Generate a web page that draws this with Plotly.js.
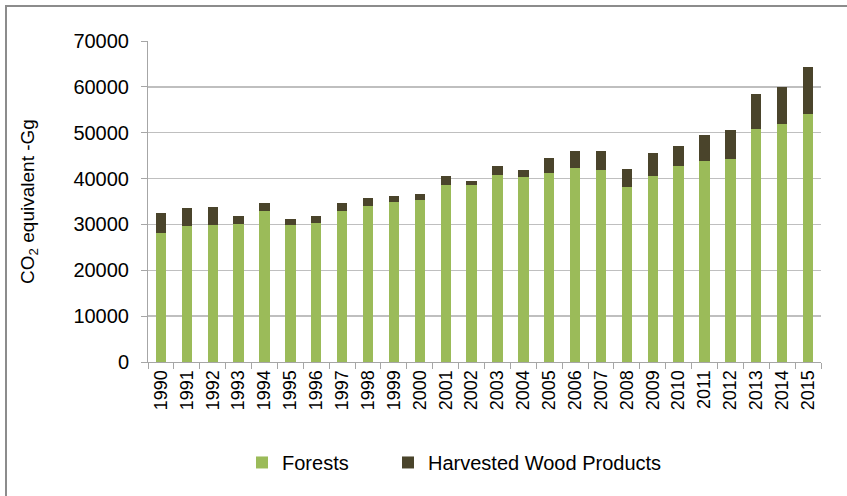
<!DOCTYPE html>
<html>
<head>
<meta charset="utf-8">
<script src="https://cdn.plot.ly/plotly-3.0.1.min.js"></script>
<style>
  html, body { margin: 0; padding: 0; background: #ffffff; }
  #wrap { position: relative; width: 847px; height: 496px; overflow: hidden; }
  #chart { position: absolute; left: 0; top: 0; width: 847px; height: 496px; }
  #frame { position: absolute; left: 5px; top: 5px; width: 900px; height: 600px;
           border-top: 2px solid #8c8c8c; border-left: 2px solid #8c8c8c; pointer-events: none; }
</style>
</head>
<body>
<div id="wrap">
  <div id="chart"></div>
  <div id="frame"></div>
</div>
<script>
// Annual removals, CO2 equivalent (Gg)
const years = ['1990','1991','1992','1993','1994','1995','1996','1997','1998','1999',
               '2000','2001','2002','2003','2004','2005','2006','2007','2008','2009',
               '2010','2011','2012','2013','2014','2015'];
const forests = [28100, 29600, 29900, 30100, 32900, 29900, 30400, 32900, 34100, 34800,
                 35300, 38700, 38700, 40800, 40300, 41300, 42400, 41900, 38100, 40600,
                 42700, 43800, 44300, 50800, 52000, 54100];
const harvestedWood = [4400, 3900, 3800, 1800, 1700, 1200, 1500, 1700, 1600, 1300,
                       1300, 1800, 800, 2000, 1600, 3200, 3600, 4100, 3900, 5000,
                       4500, 5600, 6300, 7600, 8000, 10300];
const yTicks = [0, 10000, 20000, 30000, 40000, 50000, 60000, 70000];

const FONT = 'Liberation Sans, Arial, sans-serif';

const traces = [
  {
    type: 'bar', name: 'Forests', x: years, y: forests, legend: 'legend',
    marker: { color: '#9bbb59', line: { width: 0 } }
  },
  {
    type: 'bar', name: 'Harvested Wood Products', x: years, y: harvestedWood, legend: 'legend2',
    marker: { color: '#4a442b', line: { width: 0 } }
  }
];

// one legend box per series so each entry sits at its own spot below the axis
const legendStyle = {
  orientation: 'h', xanchor: 'left', y: -0.313, yanchor: 'middle',
  font: { family: FONT, size: 20, color: '#000000' }, itemwidth: 30,
  bgcolor: 'rgba(0,0,0,0)'
};

const layout = {
  width: 847, height: 496,
  margin: { l: 148, r: 26, t: 41, b: 134, pad: 0, autoexpand: false },
  paper_bgcolor: '#ffffff', plot_bgcolor: '#ffffff',
  barmode: 'stack', bargap: 0.6,
  showlegend: true,
  legend: Object.assign({ x: 0.1397 }, legendStyle),
  legend2: Object.assign({ x: 0.3566 }, legendStyle),
  font: { family: FONT, color: '#000000' },
  xaxis: {
    type: 'category', tickson: 'boundaries', automargin: false,
    ticks: 'outside', ticklen: 6, tickcolor: '#a6a6a6', tickwidth: 1,
    tickangle: -90, tickfont: { family: FONT, size: 18, color: '#000000' },
    showline: true, linecolor: '#a6a6a6', linewidth: 1,
    showgrid: false, zeroline: false, fixedrange: true
  },
  yaxis: {
    range: [0, 70000], tickvals: yTicks, ticktext: yTicks.map(String), automargin: false,
    ticks: 'outside', ticklen: 6, tickcolor: '#a6a6a6', tickwidth: 1,
    tickfont: { family: FONT, size: 20, color: '#000000' }, ticklabelstandoff: 8,
    showline: true, linecolor: '#a6a6a6', linewidth: 1,
    showgrid: true, gridcolor: '#bfbfbf', gridwidth: 1.5,
    zeroline: false, fixedrange: true,
    title: { text: 'CO<sub>2</sub> equivalent -Gg', font: { family: FONT, size: 19, color: '#000000' }, standoff: 33 }
  }
};

Plotly.newPlot('chart', traces, layout, { displayModeBar: false, staticPlot: true });
</script>
</body>
</html>
